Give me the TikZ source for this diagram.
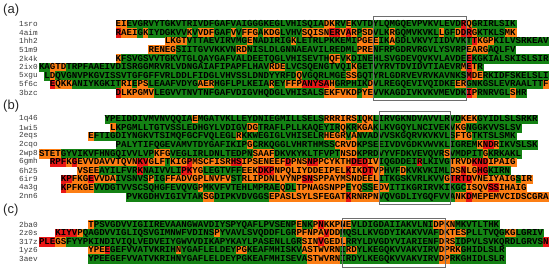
\documentclass[tikz,border=0pt]{standalone}
\usepackage{fontspec}
\setmainfont{Liberation Sans}
\newfontfamily\seqfont{Liberation Mono}
\definecolor{qg}{RGB}{20,130,20}
\definecolor{qo}{RGB}{252,126,20}
\definecolor{qr}{RGB}{232,22,22}
\definecolor{lab}{RGB}{60,60,60}
\definecolor{boxc}{RGB}{110,110,110}
\tikzset{
  seg/.style={inner xsep=0pt, inner ysep=0pt, outer sep=0pt, minimum height=8.6pt,
    text height=5.3pt, text depth=0pt, anchor=west, line width=0.3pt,
    font={\seqfont\bfseries\fontsize{9.13}{9.13}\selectfont}, text=black},
  namelab/.style={anchor=west, inner sep=0pt, text=lab,
    font={\seqfont\fontsize{7.7}{7.7}\selectfont}},
  panellab/.style={anchor=west, inner sep=0pt, text=black!85,
    font={\fontsize{13}{13}\selectfont}},
  boxline/.style={draw=boxc, line width=0.8pt}
}
\newcommand\seqrow[4]{%
  \node[namelab] (n#1) at (19,#2) {#1};
  \coordinate (s#1) at ({39+#3*5.478},#2);
  \xdef\prevpos{s#1}%
  \foreach \segc/\segt [count=\k] in {#4}{%
    \node[seg, fill=q\segc, draw=q\segc] (s#1-\k) at (\prevpos) {\segt};
    \xdef\prevpos{s#1-\k.east}%
  }%
}
\begin{document}
\begin{tikzpicture}[x=1pt,y=-1pt]
\useasboundingbox[fill=white] (0,0) rectangle (550,271);
% panel labels
\node[panellab] (pa) at (3,10) {(a)};
\node[panellab] (pb) at (3,106.5) {(b)};
\node[panellab] (pc) at (3,210) {(c)};
% ---------------- panel (a)
\seqrow{1sro}{24}{14}{o/EI,g/EVGRVYTGKVTRIVDFGAFVAIGGGKEGLVHISQIA,o/DK,g/RV,o/E,g/KVTDYLQMGQEVPVKVLEVD,r/R,o/Q,g/GRIRLSIK}
\seqrow{4aim}{32.6}{14}{r/R,o/AEI,g/G,o/K,g/IYDGKVV,o/K,g/V,o/VDF,g/GAF,o/V,g/V,o/FFG,g/A,o/KDG,g/LVHV,o/SQISN,r/ER,o/V,r/A,o/R,g/P,o/SD,g/VLK,o/R,g/GQMVKVKL,o/L,g/GF,o/D,r/DR,o/G,g/KTKLS,o/MK}
\seqrow{1hh2}{41.2}{23}{o/LKGT,g/VTTAEVIRVMG,o/E,g/NADIRIG,o/K,g/LETRLPKKEMI,o/PGEE,g/IK,o/A,g/GDLVKVYIIDVVKT,r/T,o/KGP,g/KILVSRKEAV}
\seqrow{51m9}{49.8}{20}{o/RENEG,g/SIITGVVKKVN,o/RD,g/NISLDLGNNAEAVILREDML,o/PRE,g/NFRPGDRVRGVLYSVRP,o/EARG,g/AQLFV}
\seqrow{2k4k}{58.4}{14}{o/K,g/FSVGSVVTGKVTGLQAYGAFVALDEETQGLVHISEVTH,o/QF,g/V,o/K,g/DINEHLSVGDEVQVKVLAVDE,r/E,g/KGKIALSKISLSIR}
\seqrow{2ix0}{67}{0}{g/KA,o/GTD,g/TRPFAAEIVDISRGGMRVRLVDNGAIAFIPAPFLHAV,o/RDE,g/LVCSQENGTVQI,o/K,g/GETVYRVTDVIDVTIAEVR,o/M,r/E,o/T,g/R}
\seqrow{5xgu}{75.6}{1}{g/L,o/D,g/QVGNVPKGVISSVTGFGFFVRLDDLFIDGLVHVSSLDNDYYRFD,o/Q,g/VGQRLMGE,o/SS,g/GQTYRLGDRVEVRVKAVNKS,r/M,o/DE,g/RKIDFSKELSLI}
\seqrow{5f6c}{84.2}{2}{r/E,o/QKK,g/ANIYKGKIT,o/RI,g/E,o/PS,g/LEAAFVDYG,o/AER,g/HGFLPLKEIA,o/R,g/EY,o/FFP,r/ANYSA,o/H,g/GRPHIK,o/D,g/VLREGQEVIVQIDKE,o/ER,g/GNKGSLEVRAALTT,o/F}
\seqrow{3bzc}{92.8}{14}{r/D,o/LKPGMV,g/LEGVVTNVTNFGAFVDIGVHQDGLVHISALS,o/EKFVKD,g/P,o/YE,g/VVKAGDIVKVKVMEVDK,r/I,o/P,g/RNRVGL,o/S,g/HR}
\draw[boxline] (373.2,16.7) rectangle (466.3,100);
% ---------------- panel (b)
\seqrow{1q46}{119}{12}{g/YPEIDDIVMVNVQQIA,o/E,g/MGATVKLLEYDNIEGMILLSELS,o/RRRIRS,g/I,o/QK,g/LIRVGKNDVAVVLRVD,o/KEK,g/GYIDLSLSRKR}
\seqrow{1wi5}{127.6}{13}{o/L,g/KPGMLLTGTVSSLEDHGYLVDIGV,o/DG,g/TRAFLPLLKAQEYIR,o/Q,g/KR,o/KGA,g/KLKVGQYLNCIVEKV,o/KG,g/NGGKVVSLSV}
\seqrow{2eqs}{136.2}{9}{o/E,g/FTIGDIYNGKVTSIMQFGCFVQLEGL,o/R,g/KKWEGIGLVHISELR,o/HEGR,g/V,o/A,g/NVADVVSKGQRVKVKVLS,o/FTG,g/TKTSLSMK}
\seqrow{2cqo}{144.8}{14}{g/PALYTIFQGEVAMVTDYGAFIKIP,o/G,g/CRKQGGLVHRTHMSS,o/CRVD,g/KPSEEIVDVGDKVWVKLIGREM,o/K,r/ND,o/R,g/IKVSLSK}
\seqrow{2wp8}{153.4}{0}{o/STET,g/GYVIKVFHNGQIVVLVP,o/KFG,g/VEGLIRLDNLTEDPN,o/SAAF,g/DKVKYKLTFVPT,o/NSD,g/KPRDVYVFDKVEVQVR,o/S,g/VMDPIT,o/G,g/KRKAKL}
\seqrow{6gmh}{162}{2}{r/RPF,o/K,r/G,o/EVVDAVVTQVN,r/KV,o/GLF,g/T,o/KIG,r/P,o/MSCFISR,r/HS,o/IPSENEEF,r/D,o/PNS,r/NP,o/PCYKTH,r/DED,o/IV,g/IQGDDEI,r/R,g/LKIVG,o/TRVD,r/KND,o/IPAIG}
\seqrow{6h25}{170.6}{7}{o/VSEE,g/AYILFVR,r/K,g/NAIVVLI,r/PK,o/YG,g/LEGTVFF,o/EEK,r/DKP,o/NPQLIYDDEIPEL,r/K,o/IK,r/DT,o/VP,g/HVF,o/D,g/KVKVKIML,o/DS,r/N,o/LG,r/HG,g/KIRN}
\seqrow{6ir9}{179.2}{4}{r/KP,o/FKG,r/E,o/VVDA,g/IVSNVS,o/P,g/IG,o/FFADVGPLNVFV,g/ST,o/RLIPDNLVYNP,r/SN,o/SPPAYMSNDEEL,g/ITKGSKVRLKVV,o/G,r/TRTD,o/VNEIYAIG,g/S,o/IR}
\seqrow{4a3g}{187.8}{4}{r/K,o/PFKGE,g/VVDGTVVSCSQHGFEVQVG,o/P,g/MKVFVTEHLMPRAE,o/Q,g/DL,o/TPNAGSNPP,g/E,o/YQ,g/SS,o/EDV,g/ITIKGRIRVKIKGC,o/ISQV,r/SS,o/IHAIG}
\seqrow{2nn6}{196.4}{16}{g/PVKGDHVIGIVTAK,o/SG,g/DIPKVDVGGS,o/EPASLSYLSFEGAT,r/K,o/RNRPN,g/VQVGDLIYGQFVVA,o/NK,r/D,o/MEPEMVCIDSCGRA}
\draw[boxline] (379,111.7) rectangle (450,204);
% ---------------- panel (c)
\seqrow{2ba0}{224.5}{9}{o/T,g/PSVGDVVIGIIREVAANGWAVDIYSPYQAFLPVSENP,o/E,g/NK,o/P,r/N,o/KKPNE,g/VLDIGDAIIAKVLNI,o/DPKN,g/MKVTLTHK}
\seqrow{2z0s}{233.1}{3}{r/KIYV,o/P,g/QAGDVVIGLIQSVGIMNWFVDINS,o/P,g/YVAVLSVQDDFLGR,o/PFNPA,r/V,o/DD,g/MQSLLKVGDYIKAKVVAF,o/DKTES,g/PLLTVQG,o/KG,g/LGRIV}
\seqrow{317z}{241.7}{0}{r/PLE,o/GS,g/FYYPKINDIVIQLVEDVEIYGWVVDIKAPYKAYLPASENLLGR,o/SIN,r/V,o/GEDL,g/RRYLDVGDYVIARIENF,o/DRS,g/IDPVLSVKQRDLGRVS,r/N}
\seqrow{1yz6}{250.3}{9}{o/YPE,r/E,g/GEFVVATVKRIH,o/N,g/YGAFLELDEY,o/PG,g/KEAFMHISKV,o/ASTWVRN,g/I,o/RD,g/YLKEGQKVVAKVIRV,o/DPRK,g/GHIDLSLR}
\seqrow{3aev}{258.9}{9}{g/YPEEGEFVVATVKRIHNYGAFLELDEYPGKEAFMHISEVA,o/STWVRN,g/IRDYLKEGQKVVAKVIRV,o/DP,g/RKGHIDLSLR}
\draw[boxline] (342.5,218.3) rectangle (445,267);
\end{tikzpicture}
\end{document}
